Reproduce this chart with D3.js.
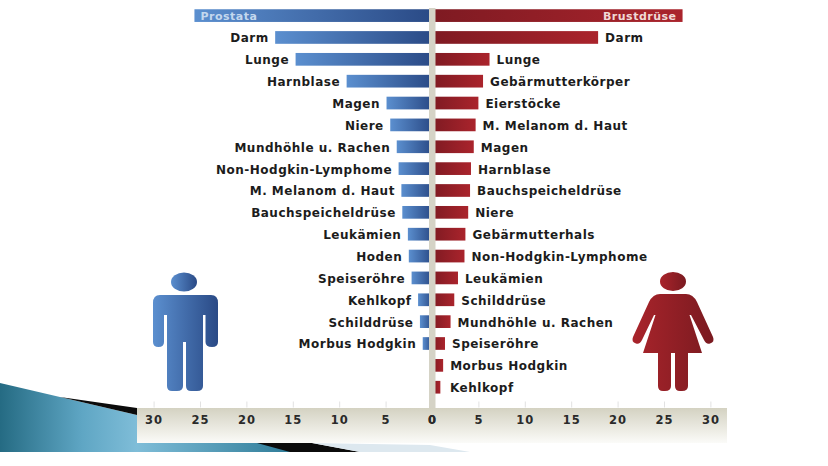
<!DOCTYPE html>
<html>
<head>
<meta charset="utf-8">
<script src="https://cdn.jsdelivr.net/npm/d3@7"></script>
<style>
  html, body { margin: 0; padding: 0; background: #fff; }
  svg { display: block; }
  text { font-family: "DejaVu Sans", sans-serif; font-weight: 700; fill: #1c1c1c; }
</style>
</head>
<body>
<div id="chart"></div>
<script>
// Values (percent of new cases)
const maleSites = ['Prostata', 'Darm', 'Lunge', 'Harnblase', 'Magen', 'Niere', 'Mundhöhle u. Rachen',
  'Non-Hodgkin-Lymphome', 'M. Melanom d. Haut', 'Bauchspeicheldrüse', 'Leukämien', 'Hoden',
  'Speiseröhre', 'Kehlkopf', 'Schilddrüse', 'Morbus Hodgkin'];
const maleValues = [25.6, 16.9, 14.7, 9.2, 4.9, 4.5, 3.8, 3.6, 3.3, 3.2, 2.6, 2.5, 2.2, 1.5, 1.3, 1.0];

const femaleSites = ['Brustdrüse', 'Darm', 'Lunge', 'Gebärmutterkörper', 'Eierstöcke', 'M. Melanom d. Haut',
  'Magen', 'Harnblase', 'Bauchspeicheldrüse', 'Niere', 'Gebärmutterhals', 'Non-Hodgkin-Lymphome',
  'Leukämien', 'Schilddrüse', 'Mundhöhle u. Rachen', 'Speiseröhre', 'Morbus Hodgkin', 'Kehlkopf'];
const femaleValues = [27.0, 17.9, 6.2, 5.5, 5.0, 4.7, 4.5, 4.2, 4.1, 3.9, 3.6, 3.5, 2.8, 2.4, 2.0, 1.4, 1.2, 0.9];

const axisTicks = [0, 5, 10, 15, 20, 25, 30];

const width = 828, height = 466;
const zeroX = 432, pxPerUnit = 9.28;
const rowH = 21.86, barH = 12.7, firstRow = 15.6;

const svg = d3.select('#chart').append('svg')
  .attr('width', width)
  .attr('height', height);

const defs = svg.append('defs');

function hGrad(id, stops) {
  const g = defs.append('linearGradient').attr('id', id);
  stops.forEach(s => g.append('stop').attr('offset', s[0]).attr('stop-color', s[1]));
}
hGrad('blueBar', [[0, '#5b8fcf'], [1, '#2a4a86']]);
hGrad('redBar', [[0, '#7e1a22'], [1, '#aa242c']]);
hGrad('manFill', [[0, '#5b8fcf'], [1, '#2a4a86']]);
hGrad('womanFill', [[0, '#a9242b'], [1, '#7a1a20']]);
hGrad('wedge', [[0, '#256b83'], [0.6, '#5fa6c4'], [1, '#7fbdd8']]);
hGrad('wedgeLow', [[0, '#7fbdd8'], [1, '#2f7c98']]);

const bandGrad = defs.append('linearGradient').attr('id', 'band')
  .attr('x1', 0).attr('x2', 0).attr('y1', 0).attr('y2', 1);
bandGrad.append('stop').attr('offset', 0).attr('stop-color', '#d4d2c2');
bandGrad.append('stop').attr('offset', 1).attr('stop-color', '#fbfbf8');

// Slide decoration behind the chart
svg.append('path').attr('d', 'M0,383 L137,415 L137,452 L0,452 Z').attr('fill', 'url(#wedge)');
svg.append('path').attr('d', 'M60,397 L137,408 L137,415 Z').attr('fill', '#0b0b0b');
svg.append('path').attr('d', 'M137,443 L290,443 L290,452 L137,452 Z').attr('fill', 'url(#wedgeLow)');
svg.append('path').attr('d', 'M257,443 L312,443 L360,452 L290,452 Z').attr('fill', '#0b0b0b');
svg.append('path').attr('d', 'M312,443 L430,445 L470,452 L360,452 Z').attr('fill', '#dde8ef');

// Axis band
svg.append('rect').attr('x', 137).attr('y', 408).attr('width', 590).attr('height', 35).attr('fill', 'url(#band)');

const xLeft = d3.scaleLinear().domain([0, 30]).range([zeroX, zeroX - 30 * pxPerUnit]);
const xRight = d3.scaleLinear().domain([0, 30]).range([zeroX, zeroX + 30 * pxPerUnit]);

function drawAxis(scale) {
  const axis = d3.axisBottom(scale).tickValues(axisTicks).tickSize(0).tickPadding(0);
  const g = svg.append('g').attr('transform', 'translate(0,415.5)').call(axis);
  g.select('.domain').remove();
  g.selectAll('text')
    .attr('font-size', 11.5)
    .style('font-family', '"DejaVu Sans", sans-serif')
    .style('font-weight', 700)
    .style('fill', '#2a2a2a')
    .style('letter-spacing', '1px');
  // faint tick stubs above the band
  g.selectAll('.tick').filter(d => d > 0).append('line')
    .attr('y1', -14).attr('y2', -8).attr('stroke', '#e2e2e2').attr('stroke-width', 1);
}
drawAxis(xLeft);
drawAxis(xRight);

// Bars
function drawSide(sites, values, scale, fill, dir) {
  const rows = sites.map((s, i) => ({ site: s, value: values[i], i }));
  const y = i => firstRow + i * rowH;

  svg.append('g').selectAll('rect').data(rows).join('rect')
    .attr('x', d => Math.min(scale(0), scale(d.value)))
    .attr('y', d => y(d.i) - barH / 2)
    .attr('width', d => Math.abs(scale(d.value) - scale(0)))
    .attr('height', barH)
    .attr('fill', fill);

  svg.append('g').selectAll('text').data(rows.slice(1)).join('text')
    .attr('x', d => {
      if (dir > 0) return Math.max(scale(d.value) + 7, 450);
      return scale(d.value) - 6.5;
    })
    .attr('y', d => y(d.i) + 0.6)
    .attr('dy', '0.36em')
    .attr('text-anchor', dir > 0 ? 'start' : 'end')
    .attr('font-size', 12)
    .style('letter-spacing', '0.5px')
    .text(d => d.site);

  // first row sits inside the bar, in a pale colour
  svg.append('text')
    .attr('x', scale(values[0]) - dir * 6)
    .attr('y', y(0))
    .attr('dy', '0.36em')
    .attr('text-anchor', dir > 0 ? 'end' : 'start')
    .attr('font-size', 11)
    .style('letter-spacing', '0.5px')
    .style('fill', dir > 0 ? '#f0d9d6' : '#c4d8ee')
    .text(sites[0]);
}
drawSide(maleSites, maleValues, xLeft, 'url(#blueBar)', -1);
drawSide(femaleSites, femaleValues, xRight, 'url(#redBar)', 1);

// Centre strip
svg.append('rect').attr('x', 429).attr('y', 8).attr('width', 6.5).attr('height', 400).attr('fill', '#d5d3c6');

// Pictograms
svg.append('g').selectAll('path')
  .data([
    'M171,282 a13,9.5 0 1,1 26,0 a13,9.5 0 1,1 -26,0 Z',
    'M160,295 L211,295 Q218,295 218,303 L218,342 Q218,347 212,347 Q205.5,347 205.5,342 L205.5,315 L203,315 L203,386 Q203,391 197,391 L191,391 Q186,391 186,386 L186,342 L183,342 L183,386 Q183,391 177,391 L172,391 Q167,391 167,386 L167,315 L164,315 L164,342 Q164,347 158.5,347 Q153,347 153,342 L153,303 Q153,295 160,295 Z'
  ]).join('path').attr('d', d => d).attr('fill', 'url(#manFill)');

svg.append('g').selectAll('path')
  .data([
    'M660,281.5 a13,9.5 0 1,1 26,0 a13,9.5 0 1,1 -26,0 Z',
    'M660,294 L686,294 Q693,294 697,302 L713,337 Q715,342 710,343.5 Q706,344.5 704,340 L691,315 L689.5,315 L702,353 L688,353 L688,386 Q688,391 682,391 L680,391 Q675,391 675,386 L675,353 L671,353 L671,386 Q671,391 665,391 L663,391 Q658,391 658,386 L658,353 L643,353 L655.5,315 L654,315 L642,340 Q640,344.5 636,343.5 Q631,342 633,337 L649,302 Q653,294 660,294 Z'
  ]).join('path').attr('d', d => d).attr('fill', 'url(#womanFill)');
</script>
</body>
</html>
